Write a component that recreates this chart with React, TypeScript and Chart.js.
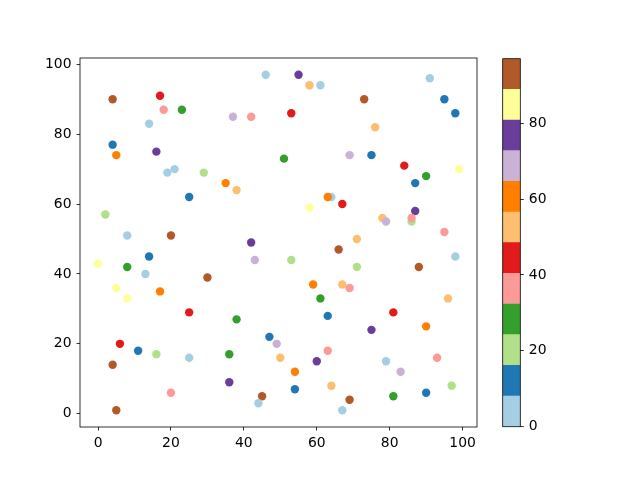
import React, { useEffect, useRef } from 'react';
import { Chart, registerables } from 'chart.js';

Chart.register(...registerables);

// scatter positions
const xValues = [
  4, 17, 18, 23, 14, 4, 5, 16, 19, 21, 29, 25, 2, 8, 20,
  46, 55, 58, 61, 37, 42, 53, 51, 69, 35, 38, 64, 63, 67, 58, 42, 71,
  91, 73, 95, 98, 76, 75, 84, 99, 90, 87, 87, 78, 79, 86, 86, 95,
  14, 0, 8, 13, 30, 5, 8, 17, 25, 6, 11, 16, 25, 4, 20, 5,
  43, 53, 66, 71, 59, 67, 69, 61, 38, 63, 47, 49, 36, 50, 63, 60, 54, 36, 64, 54, 45, 44, 69, 67,
  98, 88, 96, 81, 90, 75, 93, 79, 83, 97, 90, 81,
];
const yValues = [
  90, 91, 87, 87, 83, 77, 74, 75, 69, 70, 69, 62, 57, 51, 51,
  97, 97, 94, 94, 85, 85, 86, 73, 74, 66, 64, 62, 62, 60, 59, 49, 50,
  96, 90, 90, 86, 82, 74, 71, 70, 68, 66, 58, 56, 55, 55, 56, 52,
  45, 43, 42, 40, 39, 36, 33, 35, 29, 20, 18, 17, 16, 14, 6, 1,
  44, 44, 47, 42, 37, 37, 36, 33, 27, 28, 22, 20, 17, 16, 18, 15, 12, 9, 8, 7, 5, 3, 4, 1,
  45, 42, 33, 29, 25, 24, 16, 15, 12, 8, 6, 5,
];
// colour values (estimated from the colour bin of each point)
const colorValues = [
  93, 44, 36, 28, 4, 12, 61, 77, 4, 4, 20, 12, 20, 4, 93,
  4, 77, 53, 4, 69, 36, 44, 28, 69, 61, 53, 4, 61, 44, 85, 77, 53,
  4, 93, 12, 12, 53, 12, 44, 85, 28, 12, 77, 53, 69, 20, 36, 36,
  12, 85, 28, 4, 93, 85, 85, 61, 44, 44, 12, 20, 4, 93, 36, 93,
  69, 20, 93, 20, 61, 53, 36, 28, 28, 12, 12, 69, 28, 53, 36, 77, 61, 77, 53, 12, 93, 4, 93, 4,
  4, 93, 53, 44, 61, 77, 36, 4, 69, 20, 12, 28,
];

const xTicks = [0, 20, 40, 60, 80, 100];
const yTicks = [0, 20, 40, 60, 80, 100];
const colorTicks = [0, 20, 40, 60, 80];

const colorMin = 0;
const colorMax = 97;

// matplotlib "Paired"
const paired = [
  '#a6cee3', '#1f78b4', '#b2df8a', '#33a02c', '#fb9a99', '#e31a1c',
  '#fdbf6f', '#ff7f00', '#cab2d6', '#6a3d9a', '#ffff99', '#b15928',
];

function colorFor(v: number) {
  const n = paired.length;
  const i = Math.min(n - 1, Math.max(0, Math.floor(((v - colorMin) / (colorMax - colorMin)) * n)));
  return paired[i];
}

const font = { family: 'DejaVu Sans', size: 13.9 };

const framePlugin = {
  id: 'frame',
  afterDatasetsDraw(chart: any) {
    const { ctx, chartArea: a } = chart;
    ctx.save();
    ctx.strokeStyle = '#000';
    ctx.lineWidth = 0.8;
    ctx.strokeRect(a.left, a.top, a.right - a.left, a.bottom - a.top);
    ctx.restore();
  },
};

const tickGrid = {
  display: true,
  drawOnChartArea: false,
  drawTicks: true,
  tickLength: 3.5,
  tickColor: '#000',
  tickWidth: 0.8,
};

export default function App() {
  const mainRef = useRef<HTMLCanvasElement>(null);
  const barRef = useRef<HTMLCanvasElement>(null);

  useEffect(() => {
    if (!mainRef.current || !barRef.current) return;

    const points = xValues.map((x, i) => ({ x, y: yValues[i] }));

    const scatter = new Chart(mainRef.current, {
      type: 'scatter',
      data: {
        datasets: [{
          data: points,
          pointRadius: 4.2,
          pointHoverRadius: 4.2,
          pointBorderWidth: 0,
          pointBackgroundColor: (ctx: any) => colorFor(colorValues[ctx.dataIndex]),
        }],
      },
      options: {
        animation: false,
        responsive: true,
        maintainAspectRatio: false,
        events: [],
        layout: { padding: { left: 0, top: 58, right: 163, bottom: 0 } },
        plugins: { legend: { display: false }, tooltip: { enabled: false } },
        scales: {
          x: {
            type: 'linear',
            min: -4.95,
            max: 103.95,
            grid: tickGrid,
            border: { display: false },
            ticks: { color: '#000', font, padding: 5, maxRotation: 0 },
            afterBuildTicks: (s: any) => { s.ticks = xTicks.map((value) => ({ value })); },
            afterFit: (s: any) => { s.height = 53; },
          },
          y: {
            type: 'linear',
            min: -3.8,
            max: 101.8,
            grid: tickGrid,
            border: { display: false },
            ticks: { color: '#000', font, padding: 5 },
            afterBuildTicks: (s: any) => { s.ticks = yTicks.map((value) => ({ value })); },
            afterFit: (s: any) => { s.width = 80; },
          },
        },
      },
      plugins: [framePlugin],
    } as any);

    const binSize = (colorMax - colorMin) / paired.length;
    const colorbar = new Chart(barRef.current, {
      type: 'bar',
      data: {
        labels: ['c'],
        datasets: paired.map((c) => ({
          data: [binSize],
          backgroundColor: c,
          borderWidth: 0,
          barPercentage: 1,
          categoryPercentage: 1,
        })),
      },
      options: {
        animation: false,
        responsive: true,
        maintainAspectRatio: false,
        events: [],
        layout: { padding: { left: 12.7, top: 58.7, right: 69.7, bottom: 53.3 } },
        plugins: { legend: { display: false }, tooltip: { enabled: false } },
        scales: {
          x: { stacked: true, display: false },
          y: {
            stacked: true,
            position: 'right',
            min: colorMin,
            max: colorMax,
            grid: tickGrid,
            border: { display: false },
            ticks: { color: '#000', font, padding: 5 },
            afterBuildTicks: (s: any) => { s.ticks = colorTicks.map((value) => ({ value })); },
            afterFit: (s: any) => { s.width = 50; },
          },
        },
      },
      plugins: [framePlugin],
    } as any);

    return () => {
      scatter.destroy();
      colorbar.destroy();
    };
  }, []);

  return (
    <div style={{ position: 'fixed', left: 0, top: 0, width: 640, height: 480, background: '#fff' }}>
      <div style={{ position: 'absolute', left: 0, top: 0, width: 640, height: 480 }}>
        <canvas ref={mainRef}></canvas>
      </div>
      <div style={{ position: 'absolute', left: 490, top: 0, width: 150, height: 480 }}>
        <canvas ref={barRef}></canvas>
      </div>
    </div>
  );
}
